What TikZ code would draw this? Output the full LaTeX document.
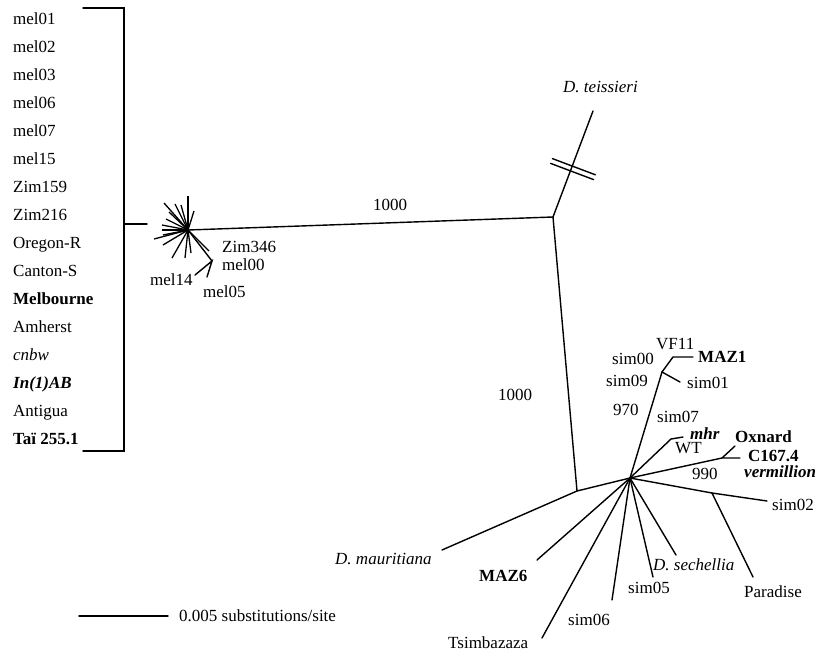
\documentclass[tikz,border=0pt]{standalone}
\usepackage{fontspec}
\setmainfont{Liberation Serif}
\begin{document}
\begin{tikzpicture}[x=1pt,y=-1pt,
  br/.style={line width=1.4pt, line cap=round},
  lab/.style={inner sep=0pt, anchor=west, text height=12pt, text depth=1pt, font=\fontsize{17}{20}\selectfont},
  blab/.style={lab, font=\fontsize{17}{20}\selectfont\bfseries},
  ilab/.style={lab, font=\fontsize{17}{20}\selectfont\itshape},
  bilab/.style={lab, font=\fontsize{17}{20}\selectfont\bfseries\itshape}]
\useasboundingbox (0,0) rectangle (819,656);

% ---- list of collapsed melanogaster strains
\node[lab]  (l1)  at (13,19)  {mel01};
\node[lab]  (l2)  at (13,47)  {mel02};
\node[lab]  (l3)  at (13,75)  {mel03};
\node[lab]  (l4)  at (13,103) {mel06};
\node[lab]  (l5)  at (13,131) {mel07};
\node[lab]  (l6)  at (13,159) {mel15};
\node[lab]  (l7)  at (13,187) {Zim159};
\node[lab]  (l8)  at (13,215) {Zim216};
\node[lab]  (l9)  at (13,243) {Oregon-R};
\node[lab]  (l10) at (13,271) {Canton-S};
\node[blab] (l11) at (13,299) {Melbourne};
\node[lab]  (l12) at (13,327) {Amherst};
\node[ilab] (l13) at (13,355) {cnbw};
\node[bilab](l14) at (13,383) {In(1)AB};
\node[lab]  (l15) at (13,411) {Antigua};
\node[blab] (l16) at (13,439) {Taï 255.1};

% bracket
\coordinate (bt) at (83,8);
\coordinate (bT) at (124,8);
\coordinate (bB) at (124,451);
\coordinate (bb) at (83,451);
\coordinate (bm) at (124,224);
\coordinate (bc) at (147,224);
\draw[br] (bt) -- (bT) -- (bB) -- (bb);
\draw[br] (bm) -- (bc);

% ---- melanogaster star
\coordinate (S) at (188,230);
\foreach \a/\b [count=\i] in {188/196, 181/205, 194/211, 164/203, 175/204, 169/212,
   166/219, 162/225, 162/230, 163/235, 154/239, 163/245, 172/258, 185/258, 191/253, 209/251}
  {\coordinate (s\i) at (\a,\b); \draw[line width=1.3pt] (S) -- (s\i);}
\coordinate (mk) at (212,261);
\coordinate (m14) at (195,275);
\coordinate (m05) at (207,277);
\draw[br] (S) -- (mk);
\draw[br] (m14) -- (mk) -- (m05);
\node[lab] (zim346) at (222,247) {Zim346};
\node[lab] (mel00) at (222,265) {mel00};
\node[lab] (mel14) at (150,280) {mel14};
\node[lab] (mel05) at (203,292) {mel05};

% ---- backbone
\coordinate (B) at (553,217);
\coordinate (T) at (593,111);
\coordinate (M) at (577,491);
\coordinate (C) at (630,478);
\draw[br] (S) -- (B);
\draw[br] (B) -- (T);
\draw[br] (B) -- (M) -- (C);
\node[lab] (b1000a) at (373,205) {1000};
\node[lab] (b1000b) at (498,395) {1000};
\node[ilab] (teis) at (563,87) {D. teissieri};

% break marks on teissieri branch
\coordinate (k1a) at (552.4,158.6);
\coordinate (k1b) at (595.4,174.8);
\coordinate (k2a) at (550.6,163.4);
\coordinate (k2b) at (593.6,179.6);
\draw[br] (k1a) -- (k1b);
\draw[br] (k2a) -- (k2b);

% mauritiana
\coordinate (tmau) at (442,550);
\draw[br] (M) -- (tmau);
\node[ilab] (mau) at (335,559) {D. mauritiana};

% ---- simulans cluster
\coordinate (tMAZ6) at (537,560);
\coordinate (tTsi) at (542,638);
\coordinate (t06) at (612,600);
\coordinate (t05) at (653,577);
\coordinate (tsec) at (676,555);
\coordinate (P) at (712,493);
\coordinate (t02) at (767,501);
\coordinate (tPar) at (753,577);
\coordinate (O) at (722,458);
\coordinate (tOx) at (735,446);
\coordinate (tC) at (740,458);
\coordinate (W) at (671,439);
\coordinate (tmhr) at (683,437);
\coordinate (A) at (662,372);
\coordinate (t01) at (680,382);
\coordinate (A2) at (673,357);
\coordinate (tMAZ1) at (693,357);

\foreach \t in {tMAZ6,tTsi,t06,t05,tsec,P,O,W,A}
  {\draw[br] (C) -- (\t);}
\draw[br] (P) -- (t02);
\draw[br] (P) -- (tPar);
\draw[br] (tOx) -- (O) -- (tC);
\draw[br] (W) -- (tmhr);
\draw[br] (A) -- (t01);
\draw[br] (A) -- (A2) -- (tMAZ1);

\node[lab]  (vf11) at (656,344) {VF11};
\node[lab]  (sim00) at (612,359) {sim00};
\node[blab] (maz1) at (698,357) {MAZ1};
\node[lab]  (sim09) at (606,381) {sim09};
\node[lab]  (sim01) at (687,383) {sim01};
\node[lab]  (b970) at (613,410) {970};
\node[lab]  (sim07) at (657,417) {sim07};
\node[bilab](mhr) at (690,434) {mhr};
\node[lab]  (wt) at (675,448) {WT};
\node[blab] (oxn) at (735,437) {Oxnard};
\node[blab] (c167) at (748,456) {C167.4};
\node[bilab](verm) at (744,472) {vermillion};
\node[lab]  (b990) at (692,474) {990};
\node[lab]  (sim02) at (772,505) {sim02};
\node[lab]  (par) at (744,592) {Paradise};
\node[ilab] (sec) at (653,565) {D. sechellia};
\node[lab]  (sim05) at (628,588) {sim05};
\node[lab]  (sim06) at (568,620) {sim06};
\node[lab]  (tsi) at (448,643) {Tsimbazaza};
\node[blab] (maz6) at (479,576) {MAZ6};

% ---- scale bar
\coordinate (sb1) at (79,616);
\coordinate (sb2) at (168,616);
\draw[br] (sb1) -- (sb2);
\node[lab] (sbl) at (179,616) {0.005 substitutions/site};
\end{tikzpicture}
\end{document}
